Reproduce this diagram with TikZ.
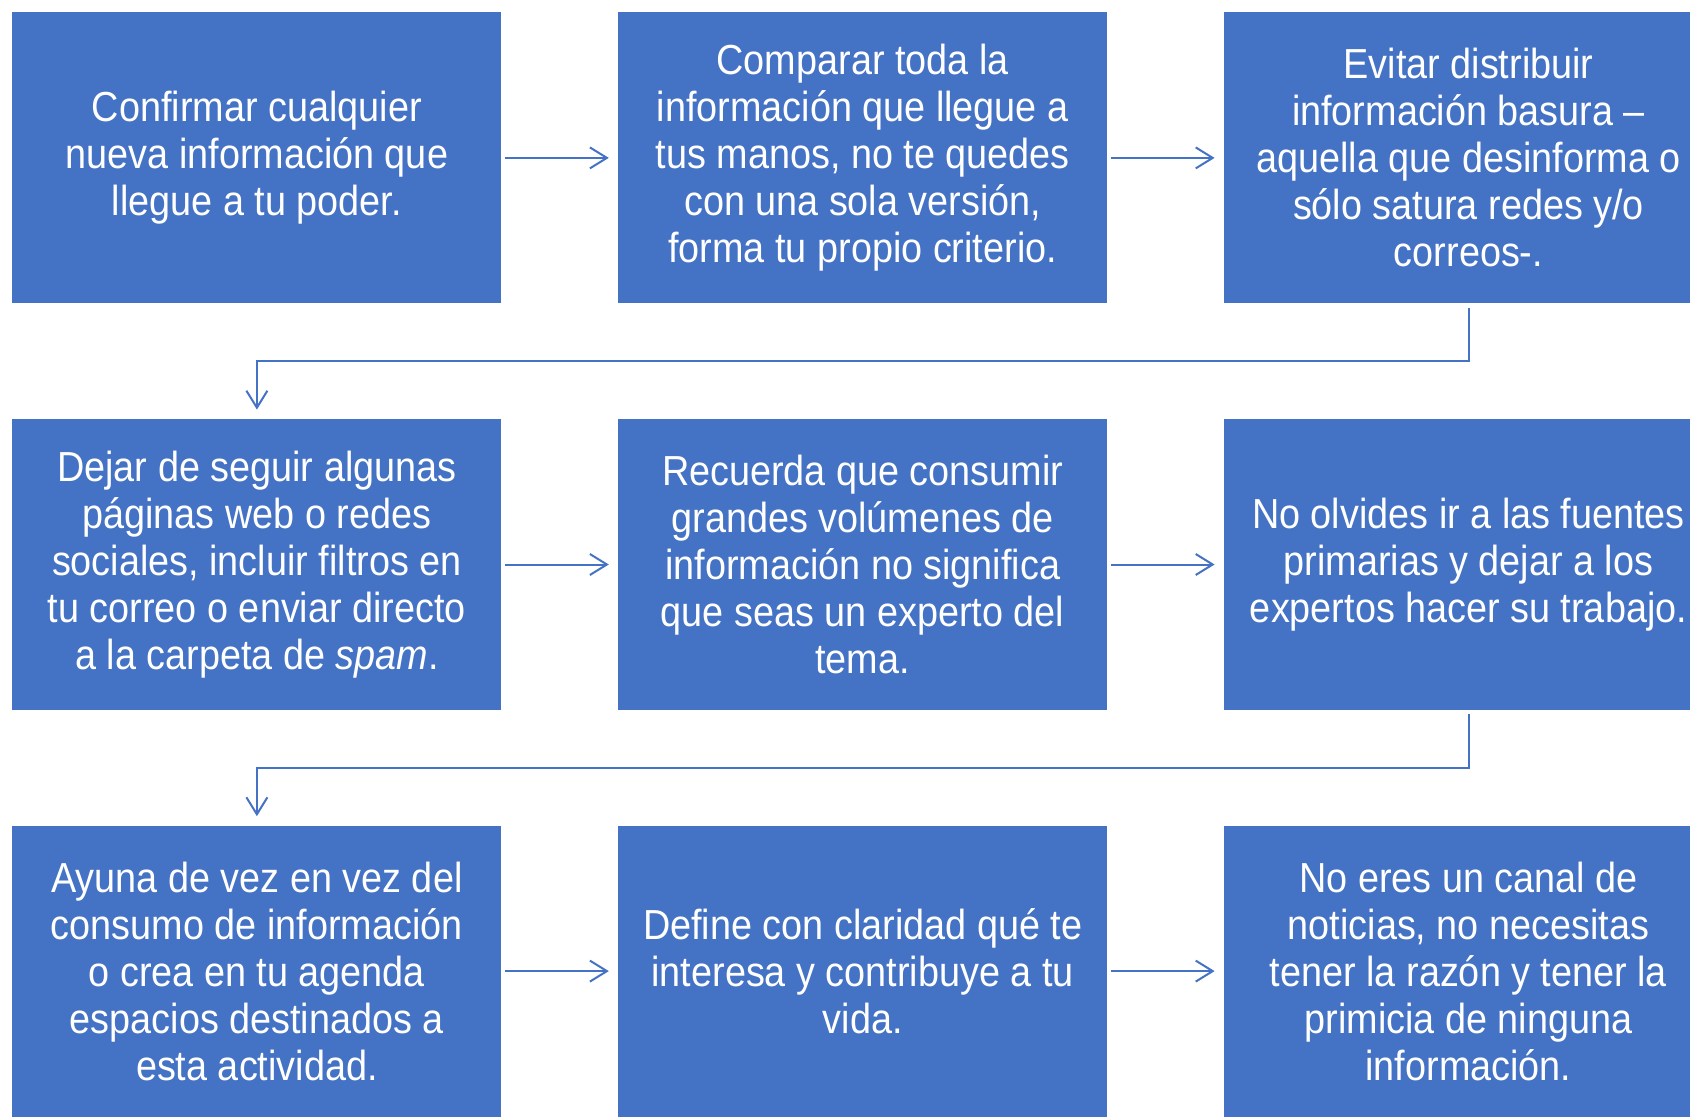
\documentclass[tikz,border=0pt]{standalone}
\usepackage{fontspec}
\setmainfont{Liberation Sans}[FakeStretch=0.9]
\usetikzlibrary{positioning,calc,arrows.meta}
\definecolor{azuloffice}{HTML}{4472C4}

\begin{document}
\begin{tikzpicture}[
    paso/.style={fill=azuloffice, text=white, minimum width=244.5pt, minimum height=145.5pt,
      inner sep=0pt, align=center, font=\fontsize{21}{23.5}\selectfont},
    flecha/.style={draw=azuloffice, line width=1pt, -{Straight Barb[length=8.5pt,width=10.5pt]},
      shorten <=1.5pt, shorten >=4.5pt},
    node distance=57.4pt and 58pt]

  \path[use as bounding box] (0,0) rectangle (845pt,-558.5pt);
  \clip (0,0) rectangle (845pt,-558.5pt);

  % fila 1
  \node[paso, anchor=north west] (paso1) at (6pt,-6pt)
    {Confirmar cualquier\\ nueva información que\\ llegue a tu poder.};
  \node[paso, right=of paso1] (paso2)
    {Comparar toda la\\ información que llegue a\\ tus manos, no te quedes\\ con una sola versión,\\ forma tu propio criterio.};
  \node[paso, right=of paso2] (paso3)
    {Evitar distribuir\\ información basura –\\ aquella que desinforma o\\ sólo satura redes y/o\\ correos-.};

  % fila 2
  \node[paso, below=of paso1] (paso4)
    {Dejar de seguir algunas\\ páginas web o redes\\ sociales, incluir filtros en\\ tu correo o enviar directo\\ a la carpeta de \textit{spam}.};
  \node[paso, right=of paso4] (paso5)
    {Recuerda que consumir\\ grandes volúmenes de\\ información no significa\\ que seas un experto del\\ tema.};
  \node[paso, right=of paso5] (paso6)
    {No olvides ir a las fuentes\\ primarias y dejar a los\\ expertos hacer su trabajo.};

  % fila 3
  \node[paso, below=of paso4] (paso7)
    {Ayuna de vez en vez del\\ consumo de información\\ o crea en tu agenda\\ espacios destinados a\\ esta actividad.};
  \node[paso, right=of paso7] (paso8)
    {Define con claridad qué te\\ interesa y contribuye a tu\\ vida.};
  \node[paso, right=of paso8] (paso9)
    {No eres un canal de\\ noticias, no necesitas\\ tener la razón y tener la\\ primicia de ninguna\\ información.};

  % conectores
  \foreach \a/\b in {paso1/paso2, paso2/paso3, paso4/paso5, paso5/paso6, paso7/paso8, paso8/paso9}{
    \draw[flecha] (\a) -- (\b);
  }
  \draw[flecha, shorten <=2pt] (paso3.south) |- ($(paso3.south)!.5!(paso4.north)$) -| (paso4.north);
  \draw[flecha, shorten <=2pt] (paso6.south) |- ($(paso6.south)!.5!(paso7.north)$) -| (paso7.north);
\end{tikzpicture}
\end{document}
